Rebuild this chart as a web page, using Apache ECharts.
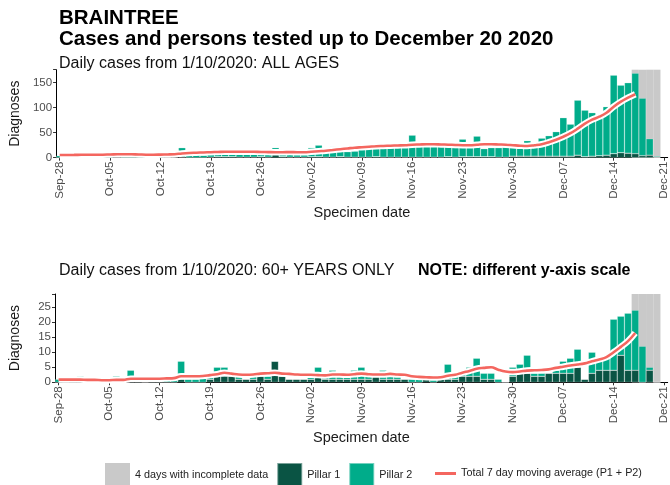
<!DOCTYPE html>
<html>
<head>
<meta charset="utf-8">
<script src="https://cdn.jsdelivr.net/npm/echarts@6/dist/echarts.min.js"></script>
<style>
html,body{margin:0;padding:0;background:#fff;}
#chart{width:670px;height:485px;}
</style>
</head>
<body>
<div id="chart"></div>
<script>
// ---- categories (days on the x axis) ----
const dates = [
 'Sep-28','Sep-29','Sep-30',
 'Oct-01','Oct-02','Oct-03','Oct-04','Oct-05','Oct-06','Oct-07','Oct-08','Oct-09','Oct-10','Oct-11','Oct-12','Oct-13','Oct-14','Oct-15','Oct-16','Oct-17','Oct-18','Oct-19','Oct-20','Oct-21','Oct-22','Oct-23','Oct-24','Oct-25','Oct-26','Oct-27','Oct-28','Oct-29','Oct-30','Oct-31',
 'Nov-01','Nov-02','Nov-03','Nov-04','Nov-05','Nov-06','Nov-07','Nov-08','Nov-09','Nov-10','Nov-11','Nov-12','Nov-13','Nov-14','Nov-15','Nov-16','Nov-17','Nov-18','Nov-19','Nov-20','Nov-21','Nov-22','Nov-23','Nov-24','Nov-25','Nov-26','Nov-27','Nov-28','Nov-29','Nov-30',
 'Dec-01','Dec-02','Dec-03','Dec-04','Dec-05','Dec-06','Dec-07','Dec-08','Dec-09','Dec-10','Dec-11','Dec-12','Dec-13','Dec-14','Dec-15','Dec-16','Dec-17','Dec-18','Dec-19','Dec-20','Dec-21'
];
const tickLabels = ['Sep-28','Oct-05','Oct-12','Oct-19','Oct-26','Nov-02','Nov-09','Nov-16','Nov-23','Nov-30','Dec-07','Dec-14','Dec-21'];
const incompleteDays = ['Dec-17','Dec-18','Dec-19','Dec-20'];

// ---- ALL AGES ----
const allP1 = [
 0,0,0,
 0,0,0,0, 0,1,0,0,0,0,0, 0,1,1,1,0,0,0, 1,2,2,2,1,1,1, 2,1,7,2,1,1,
 1, 2,2,1,1,2,1,1, 1,1,2,1,1,1,1, 1,1,1,1,1,2,1, 2,2,2,2,2,1,1, 3,
 3,3,3,3,3,3, 3,3,5,2,3,4,5, 8,10,9,8,4,5,1
];
const allTotal = [
 4,6,5,
 7,5,4,3, 6,8,7,6,5,4,3, 7,8,9,20,9,6,5, 12,13,14,12,10,7,8, 12,10,20,11,10,8,
 6, 20,25,15,22,14,12,13, 24,26,22,28,25,24,26, 45,24,26,28,25,22,20, 37,22,43,18,20,20,22, 20,
 22,34,30,39,44,52, 80,67,115,95,90,80,102, 165,145,150,169,119,38,3
];
const allAvg = [
 5.3,5.5,5.6,
 5.8,6.0,6.0,6.0, 6.5,6.8,7.0,6.8,6.5,6.0,6.0, 6.2,6.5,7.0,8.5,9.5,10.0,10.5, 11.0,11.5,12.0,12.0,12.0,12.0,11.8, 11.5,11.2,11.0,11.0,11.2,11.0,
 11.0, 12.0,13.0,14.0,15.5,17.0,18.5,20.0, 21,22,23,23.5,24,24.5,25, 26,26.5,27,27,26.5,26,25.5, 25,25,26,27,27,26.5,26, 25,
 24,23.5,25,27,31,36, 42,49,58,68,76,82,90, 102,112,120,127
];

// ---- 60+ YEARS ONLY ----
const oldP1 = [
 0,0,0,
 0,0,0,0, 0,0,0,0,0,0,0, 0,0,0,1,0,0,0, 1,2,2,2,1,1,1, 2,1,7,2,1,1,
 1, 1,2,1,1,1,1,1, 1,1,2,1,1,1,1, 0,0,1,0,1,1,1, 2,2,2,1,1,0,0, 2,
 3,3,2,2,3,3, 3,3,5,1,3,4,4, 4,9,4,4,0,4,0
];
const oldTotal = [
 1,0,1,
 2,0,1,0, 1,2,1,4,1,0,1, 1,1,2,7,1,1,2, 3,5,5,2,2,1,2, 3,2,7,2,1,1,
 1, 3,5,2,4,2,2,4, 5,2,2,4,2,2,1, 1,1,1,1,1,6,2, 3,5,8,3,3,1,0, 5,
 6,9,3,3,3,4, 7,8,11,1,10,8,9, 21,22,23,24,12,5,0
];
const oldAvg = [
 0.9,0.9,0.9,
 0.9,0.8,0.8,0.7, 0.7,0.8,0.8,1.2,1.2,1.2,1.2, 1.2,1.3,1.4,2.0,2.0,2.0,2.1, 2.4,2.7,3.2,2.9,2.6,2.5,2.6, 2.9,3.0,3.2,2.9,2.8,2.6,
 2.5, 2.5,2.4,2.3,2.6,2.6,2.5,2.7, 2.9,2.7,2.6,2.6,2.8,2.6,2.5, 2.0,1.8,1.7,1.6,1.7,2.2,2.5, 3.2,3.8,4.5,4.8,5.0,4.2,3.6, 3.4,
 3.6,3.9,4.0,4.1,4.3,4.8, 5.2,5.6,5.9,6.3,7.0,7.6,8.4, 10.0,11.8,13.7,16.4
];

const topMax = 176, botMax = 29.4;
const C_GRAY = '#C9C9C9', C_P1 = '#0A5444', C_P2 = '#00AC8A', C_LINE = '#F4665F';
const NAME_GRAY = '4 days with incomplete data', NAME_P1 = 'Pillar 1', NAME_P2 = 'Pillar 2', NAME_LINE = 'Total 7 day moving average (P1 + P2)';

const chart = echarts.init(document.getElementById('chart'), null, {renderer: 'canvas'});
const FONT = 'Liberation Sans, Arial, sans-serif';

function p2(total, p1) { return total.map((t, i) => Math.max(0, t - p1[i])); }
function grayData(maxV) { return dates.map(d => incompleteDays.includes(d) ? maxV : '-'); }

function xAxisCfg(gridIndex) {
  return {
    type: 'category', gridIndex, data: dates, boundaryGap: true,
    name: 'Specimen date', nameLocation: 'middle', nameGap: 48,
    nameTextStyle: {fontSize: 14.5, color: '#1a1a1a', fontFamily: FONT},
    axisLine: {show: true, lineStyle: {color: '#000', width: 1}},
    axisTick: {show: true, alignWithLabel: true, length: 3, interval: (i, v) => tickLabels.includes(v), lineStyle: {color: '#333'}},
    axisLabel: {rotate: 90, fontSize: 11.5, color: '#4d4d4d', fontFamily: FONT, margin: 4,
      interval: (i, v) => tickLabels.includes(v)},
    splitLine: {show: false}
  };
}
function yAxisCfg(gridIndex, maxV, step) {
  return {
    type: 'value', gridIndex, min: 0, max: maxV, interval: step,
    name: 'Diagnoses', nameLocation: 'middle', nameGap: 33, nameRotate: 90,
    nameTextStyle: {fontSize: 14, color: '#1a1a1a', fontFamily: FONT},
    axisLine: {show: true, lineStyle: {color: '#000', width: 1}},
    axisTick: {show: true, length: 3, lineStyle: {color: '#333'}},
    axisLabel: {fontSize: 11.5, color: '#4d4d4d', fontFamily: FONT, margin: 4,
      formatter: v => (Math.abs(v / step - Math.round(v / step)) < 1e-6 ? String(v) : '')},
    splitLine: {show: false}
  };
}
function seriesFor(idx, total, p1, avg, maxV) {
  const barCommon = {type: 'bar', xAxisIndex: idx, yAxisIndex: idx, barGap: '-100%', barCategoryGap: '0%'};
  return [
    Object.assign({}, barCommon, {name: NAME_GRAY, stack: 'bg' + idx, data: grayData(maxV),
      itemStyle: {color: C_GRAY}, silent: true}),
    Object.assign({}, barCommon, {name: NAME_P1, stack: 'cases' + idx, data: p1,
      itemStyle: {color: C_P1, borderColor: 'rgba(255,255,255,0.45)', borderWidth: 0.5}}),
    Object.assign({}, barCommon, {name: NAME_P2, stack: 'cases' + idx, data: p2(total, p1),
      itemStyle: {color: C_P2, borderColor: 'rgba(255,255,255,0.45)', borderWidth: 0.5}}),
    {type: 'line', name: 'halo' + idx, xAxisIndex: idx, yAxisIndex: idx, data: avg, smooth: 0.4,
      showSymbol: false, lineStyle: {color: '#fff', width: 6.5}, silent: true, z: 3},
    {type: 'line', name: NAME_LINE, xAxisIndex: idx, yAxisIndex: idx, data: avg, smooth: 0.4,
      showSymbol: false, lineStyle: {color: C_LINE, width: 2.6}, itemStyle: {color: C_LINE}, z: 4}
  ];
}

const legendText = {fontSize: 10.8, color: '#222', fontFamily: FONT};
const option = {
  animation: false,
  textStyle: {fontFamily: FONT},
  title: [
    {text: 'BRAINTREE', left: 54, top: 3, textStyle: {fontSize: 20.5, fontWeight: 'bold', color: '#000', fontFamily: FONT}},
    {text: 'Cases and persons tested up to December 20 2020', left: 54, top: 24, textStyle: {fontSize: 20.5, fontWeight: 'bold', color: '#000', fontFamily: FONT}},
    {text: 'Daily cases from 1/10/2020: ALL AGES', left: 54, top: 51, textStyle: {fontSize: 16, fontWeight: 'normal', color: '#111', fontFamily: FONT}},
    {text: 'Daily cases from 1/10/2020: 60+ YEARS ONLY', left: 54, top: 258, textStyle: {fontSize: 16, fontWeight: 'normal', color: '#111', fontFamily: FONT}},
    {text: 'NOTE: different y-axis scale', left: 413, top: 258, textStyle: {fontSize: 16, fontWeight: 'bold', color: '#000', fontFamily: FONT}}
  ],
  legend: [
    {
      left: 100, top: 457, itemWidth: 25, itemHeight: 25, itemGap: 8, textStyle: legendText,
      data: [
        {name: NAME_GRAY, icon: 'rect'},
        {name: NAME_P1, icon: 'rect'},
        {name: NAME_P2, icon: 'rect'}
      ],
      selectedMode: false
    },
    {
      left: 430, top: 463, itemWidth: 21, itemHeight: 25, textStyle: legendText,
      data: [{name: NAME_LINE, icon: 'path://M0,0 L21,0 L21,3 L0,3 Z'}],
      selectedMode: false
    }
  ],
  grid: [
    {left: 51.8, width: 622.2, top: 69.7, height: 88.0},
    {left: 51.8, width: 622.2, top: 294.0, height: 88.3}
  ],
  xAxis: [xAxisCfg(0), xAxisCfg(1)],
  yAxis: [yAxisCfg(0, topMax, 50), yAxisCfg(1, botMax, 5)],
  series: [].concat(seriesFor(0, allTotal, allP1, allAvg, topMax), seriesFor(1, oldTotal, oldP1, oldAvg, botMax))
};
chart.setOption(option);
</script>
</body>
</html>
